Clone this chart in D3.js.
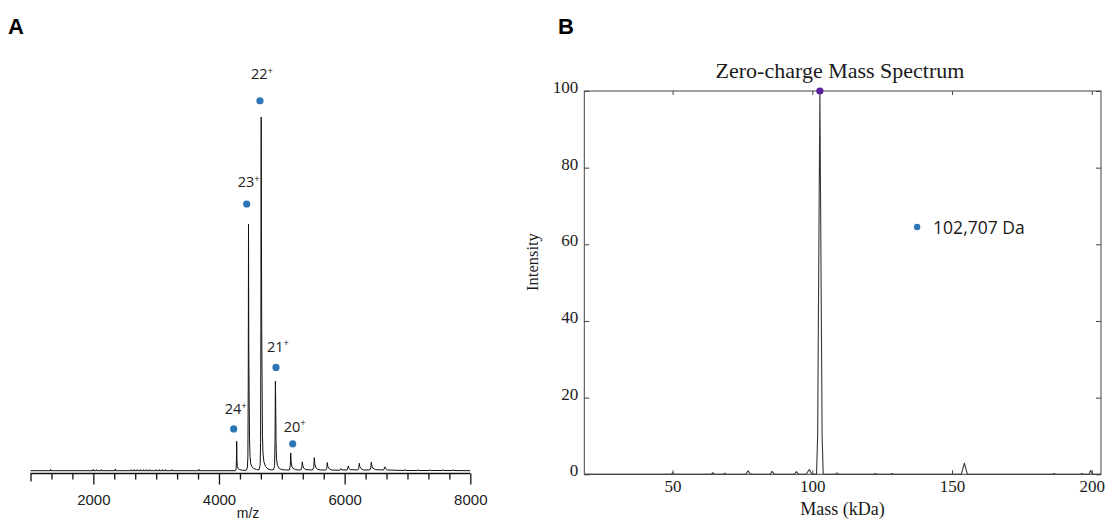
<!DOCTYPE html>
<html>
<head>
<meta charset="utf-8">
<script src="https://cdn.jsdelivr.net/npm/d3@7"></script>
<style>
  body { margin: 0; background: #fff; }
  svg { display: block; }
</style>
</head>
<body>
<svg id="chart" width="1105" height="522"></svg>
<script>
// ---- panel A: native spectrum (m/z vs relative intensity) ----
const mzTicks = [2000, 4000, 6000, 8000];

// profile points: [m/z, relative intensity]
const spectrumA = [
  [1000, 0], [1315, 0], [1320, 0.4], [1325, 0],
  [1995, 0], [2000, 0.4], [2005, 0], [2045, 0], [2050, 0.3], [2055, 0],
  [2125, 0], [2130, 0.3], [2135, 0], [2345, 0], [2350, 0.5], [2355, 0],
  [2595, 0], [2600, 0.3], [2605, 0], [2645, 0], [2650, 0.3], [2655, 0],
  [2695, 0], [2700, 0.3], [2705, 0], [2745, 0], [2750, 0.3], [2755, 0],
  [2795, 0], [2800, 0.3], [2805, 0], [2845, 0], [2850, 0.3], [2855, 0],
  [2895, 0], [2900, 0.3], [2905, 0], [2995, 0], [3000, 0.3], [3005, 0],
  [3045, 0], [3050, 0.3], [3055, 0], [3095, 0], [3100, 0.3], [3105, 0],
  [3145, 0], [3150, 0.3], [3155, 0], [3245, 0], [3250, 0.3], [3255, 0],
  [3675, 0], [3680, 0.4], [3685, 0],
  // 24+
  [4262, 0], [4272, 0.4], [4278, 3], [4282, 8.3], [4286, 3], [4292, 1.2],
  [4305, 0.6], [4330, 0.3], [4380, 0.1], [4430, 0.1],
  // 23+
  [4452, 0.8], [4460, 4], [4466, 25], [4470, 69.7], [4474, 35], [4480, 20],
  [4486, 9], [4494, 4], [4505, 2], [4525, 1.1], [4555, 0.6], [4600, 0.3], [4635, 0.2],
  // 22+
  [4655, 1.5], [4662, 8], [4667, 40], [4670, 85], [4672, 100], [4674, 80],
  [4680, 40], [4686, 25], [4692, 10], [4700, 5], [4715, 2.5], [4740, 1.2],
  [4780, 0.5], [4830, 0.2], [4870, 0.3],
  // 21+
  [4885, 1.5], [4892, 8], [4898, 25.3], [4902, 20], [4908, 8], [4915, 3.5],
  [4930, 1.5], [4960, 0.6], [5000, 0.3], [5060, 0.2], [5120, 0.2],
  // 20+
  [5135, 1.5], [5142, 5.0], [5148, 2.5], [5160, 1.2], [5180, 0.6], [5220, 0.3],
  [5260, 0.2], [5300, 0.2],
  [5318, 0.8], [5326, 2.5], [5334, 1.4], [5350, 0.7], [5380, 0.3], [5490, 0.2],
  [5508, 0.9], [5517, 3.7], [5524, 2], [5540, 0.9], [5570, 0.4], [5610, 0.2], [5700, 0.2],
  [5716, 0.7], [5724, 2.3], [5732, 1.2], [5750, 0.6], [5790, 0.2], [5920, 0.1],
  [5937, 0.6], [5955, 0.2], [6040, 0.2],
  [6058, 1.3], [6066, 0.7], [6090, 0.3], [6210, 0.2],
  [6225, 0.7], [6233, 2.1], [6241, 1.2], [6260, 0.6], [6300, 0.2], [6400, 0.2],
  [6416, 0.8], [6424, 2.4], [6432, 1.4], [6450, 0.7], [6490, 0.3], [6620, 0.2],
  [6642, 1.1], [6652, 0.6], [6680, 0.2], [6950, 0.05],
  [6960, 0.35], [6970, 0.05], [7157, 0.05], [7167, 0.3], [7177, 0.05],
  [7348, 0.05], [7358, 0.3], [7368, 0.05], [7555, 0.05], [7565, 0.3], [7575, 0.05],
  [7714, 0.05], [7724, 0.3], [7734, 0.05], [8000, 0]
];

// charge state annotations
const chargeStates = ["24", "23", "22", "21", "20"];
const chargeDotMz = [4234, 4441, 4652, 4907, 5173];
const chargeDotLevel = [11.8, 75.4, 104.6, 29.2, 7.6];
const chargeLabelLevel = [16.0, 80.2, 110.7, 33.6, 11.0];

// ---- panel B: deconvolved zero-charge spectrum ----
const massTicks = [50, 100, 150, 200];
const intensityTicks = [0, 20, 40, 60, 80, 100];
const spectrumB = [
  [18.4, 0], [49.5, 0], [50, 0.4], [50.5, 0], [63.8, 0], [64.4, 0.4], [65, 0],
  [68.2, 0], [68.7, 0.3], [69.2, 0], [76.3, 0], [77, 0.9], [77.7, 0.2], [78.5, 0],
  [85, 0], [85.6, 0.8], [86.3, 0.1], [87, 0], [93.6, 0], [94.3, 0.7], [95, 0.1],
  [95.6, 0], [97.8, 0], [98.5, 0.8], [99, 1.2], [99.6, 0.3], [100.3, 0],
  [101.5, 0], [101.9, 10], [102.3, 55], [102.7, 100], [103.1, 55], [103.5, 10],
  [103.9, 0], [108.3, 0], [108.8, 0.35], [109.3, 0], [122, 0], [122.5, 0.2],
  [123, 0], [128, 0], [128.5, 0.2], [129, 0], [153.3, 0], [154.4, 2.9], [155.5, 0],
  [186, 0], [186.5, 0.2], [187, 0], [196, 0], [196.5, 0.2], [197, 0], [199, 0],
  [199.6, 1.0], [200.3, 0], [203.3, 0]
];
const apexMass = 102.7;
const apexIntensity = 100;
const massLabel = "102,707 Da";
const massLabelPos = [137.5, 64.5]; // kDa, intensity

const svg = d3.select('#chart');
svg.append('rect').attr('width', 1105).attr('height', 522).attr('fill', '#fff');

const sans = "'Liberation Sans', Arial, sans-serif";
const serif = "'Liberation Serif', 'Times New Roman', serif";
const note = "'Open Sans', 'Liberation Sans', sans-serif";

// ---------- A ----------
const xA = d3.scaleLinear().domain([1000, 8000]).range([30.5, 470.3]);
const yA = d3.scaleLinear().domain([0, 100]).range([470.7, 117]);

const gA = svg.append('g');
gA.append('text')
  .attr('x', 8).attr('y', 34)
  .attr('font-family', sans).attr('font-weight', 'bold').attr('font-size', 22)
  .text('A');

gA.append('path')
  .datum(spectrumA)
  .attr('fill', 'none')
  .attr('stroke', '#111')
  .attr('stroke-width', 1)
  .attr('stroke-linejoin', 'round')
  .attr('d', d3.line().x(d => xA(d[0])).y(d => yA(d[1])));

const minorTicks = d3.range(1000, 8001, 1000 / 3).filter(v => !mzTicks.some(t => Math.abs(t - v) < 1));
const axisA = gA.append('g').attr('transform', 'translate(0,473.5)');
axisA.append('g')
  .call(d3.axisBottom(xA).tickValues(minorTicks).tickSize(6).tickSizeOuter(0).tickFormat(''))
  .call(g => g.select('.domain').remove());
axisA.append('g')
  .call(d3.axisBottom(xA).tickValues(mzTicks).tickSize(11).tickSizeOuter(0).tickPadding(10).tickFormat(d3.format('d')))
  .call(g => g.select('.domain').remove())
  .call(g => g.selectAll('text').attr('font-family', sans).attr('font-size', 15).attr('fill', '#222'));
axisA.selectAll('line').attr('stroke', '#111').attr('stroke-width', 1.3);
axisA.append('line')
  .attr('x1', xA(1000)).attr('x2', xA(8000))
  .attr('stroke', '#111').attr('stroke-width', 1.6);
axisA.select('g').select('.tick line').attr('y2', 8);

gA.append('text')
  .attr('x', 248).attr('y', 518)
  .attr('text-anchor', 'middle')
  .attr('font-family', sans).attr('font-size', 14).attr('fill', '#222')
  .text('m/z');

gA.selectAll('.charge-dot')
  .data(chargeStates)
  .enter().append('circle')
  .attr('class', 'charge-dot')
  .attr('cx', (d, i) => xA(chargeDotMz[i]))
  .attr('cy', (d, i) => yA(chargeDotLevel[i]))
  .attr('r', 3.6)
  .attr('fill', '#2e75b6');

const labels = gA.selectAll('.charge-label')
  .data(chargeStates)
  .enter().append('text')
  .attr('class', 'charge-label')
  .attr('x', (d, i) => xA(chargeDotMz[i]) + 2)
  .attr('y', (d, i) => yA(chargeLabelLevel[i]))
  .attr('text-anchor', 'middle')
  .attr('font-family', note).attr('font-size', 14.5).attr('fill', '#222');
labels.append('tspan').text(d => d);
labels.append('tspan').attr('dy', -5.5).attr('font-size', 9.5).text('+');

// ---------- B ----------
const xB = d3.scaleLinear().domain([18.4, 203.3]).range([584.3, 1101]);
const yB = d3.scaleLinear().domain([0, 100]).range([474.3, 91]);
const frame = '#444';

const gB = svg.append('g');
gB.append('text')
  .attr('x', 558).attr('y', 34)
  .attr('font-family', sans).attr('font-weight', 'bold').attr('font-size', 22)
  .text('B');

gB.append('text')
  .attr('x', 840).attr('y', 78.3)
  .attr('text-anchor', 'middle')
  .attr('font-family', serif).attr('font-size', 22).attr('fill', '#1a1a1a')
  .text('Zero-charge Mass Spectrum');

gB.append('rect')
  .attr('x', xB.range()[0]).attr('y', yB.range()[1])
  .attr('width', xB.range()[1] - xB.range()[0])
  .attr('height', yB.range()[0] - yB.range()[1])
  .attr('fill', 'none').attr('stroke', frame).attr('stroke-width', 1);

const styleAxis = g => {
  g.select('.domain').remove();
  g.selectAll('line').attr('stroke', frame);
  g.selectAll('text').attr('font-family', serif).attr('font-size', 17).attr('fill', '#1a1a1a');
};

gB.append('g')
  .attr('transform', `translate(${xB.range()[0]},0)`)
  .call(d3.axisLeft(yB).tickValues(intensityTicks).tickSize(-5).tickPadding(6))
  .call(styleAxis)
  .call(g => g.selectAll('text').attr('dy', '0.09em'));
gB.append('g')
  .attr('transform', `translate(${xB.range()[1]},0)`)
  .call(d3.axisRight(yB).tickValues(intensityTicks).tickSize(-5).tickFormat(''))
  .call(styleAxis);
gB.append('g')
  .attr('transform', `translate(0,${yB.range()[0]})`)
  .call(d3.axisBottom(xB).tickValues(massTicks).tickSize(-4).tickPadding(5.3))
  .call(styleAxis);
gB.append('g')
  .attr('transform', `translate(0,${yB.range()[1]})`)
  .call(d3.axisTop(xB).tickValues(massTicks).tickSize(-4).tickFormat(''))
  .call(styleAxis);

gB.append('path')
  .datum(spectrumB)
  .attr('fill', 'none')
  .attr('stroke', '#3a3a3a')
  .attr('stroke-width', 1.1)
  .attr('stroke-linejoin', 'round')
  .attr('d', d3.line().x(d => xB(d[0])).y(d => yB(d[1])));

gB.append('circle')
  .attr('cx', xB(apexMass)).attr('cy', yB(apexIntensity))
  .attr('r', 3.6).attr('fill', '#5b1f9e');

gB.append('circle')
  .attr('cx', xB(massLabelPos[0])).attr('cy', yB(massLabelPos[1]))
  .attr('r', 3.2).attr('fill', '#2e75b6');
gB.append('text')
  .attr('x', xB(massLabelPos[0]) + 16).attr('y', yB(massLabelPos[1]) + 7)
  .attr('font-family', note).attr('font-size', 17.5).attr('fill', '#1a1a1a')
  .text(massLabel);

gB.append('text')
  .attr('transform', 'translate(538,262) rotate(-90)')
  .attr('text-anchor', 'middle')
  .attr('font-family', serif).attr('font-size', 16.5).attr('fill', '#1a1a1a')
  .text('Intensity');
gB.append('text')
  .attr('x', 842.6).attr('y', 515)
  .attr('text-anchor', 'middle')
  .attr('font-family', serif).attr('font-size', 18).attr('fill', '#1a1a1a')
  .text('Mass (kDa)');
</script>
</body>
</html>
